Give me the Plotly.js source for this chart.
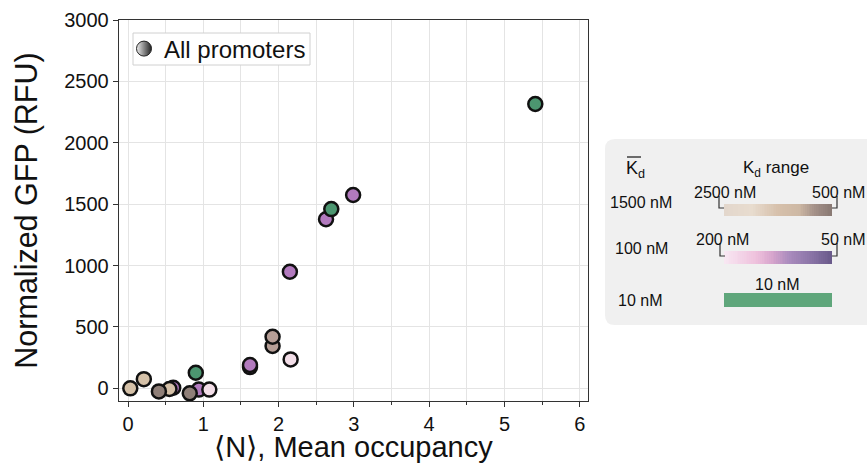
<!DOCTYPE html>
<html><head><meta charset="utf-8">
<script src="https://cdn.plot.ly/plotly-3.0.1.min.js"></script>
<style>html,body{margin:0;padding:0;background:#fff}#chart{width:867px;height:463px}</style>
</head><body><div id="chart"></div>
<script>
// ---- data ----
const occupancy = [0.60, 0.55, 0.03, 0.21, 0.41, 0.94, 0.82, 1.08, 0.90, 1.62, 1.62, 1.92, 1.92, 2.16, 2.15, 2.63, 2.70, 2.99, 5.41];
const gfp       = [5, -5, 0, 75, -25, -10, -40, -10, 127, 173, 190, 345, 420, 236, 950, 1377, 1460, 1575, 2316];
const kdGroup   = ['K100_mid','K1500_low','K1500_low','K1500_low','K1500_high','K100_mid','K1500_high','K100_low','K10','K100_mid','K100_mid','K1500_mid','K1500_mid','K100_low','K100_mid','K100_mid','K10','K100_mid','K10'];
const groupColor = {K1500_low:'#d5c1a8', K1500_mid:'#b69e96', K1500_high:'#8f7f78', K100_low:'#f3dee8', K100_mid:'#b27abe', K10:'#4c9670'};
const legendLabel = 'All promoters';
const meanKdLabels = ['1500 nM', '100 nM', '10 nM'];
const rangeLeftLabels = ['2500 nM', '200 nM', '10 nM'];
const rangeRightLabels = ['500 nM', '50 nM', ''];
const xTickVals = [0,1,2,3,4,5,6];
const yTickVals = [0,500,1000,1500,2000,2500,3000];
const brownScale = [[0,'#e3d7cc'],[0.25,'#e8dccf'],[0.5,'#d6c0ab'],[0.7,'#cdb8a4'],[0.85,'#a28f87'],[1,'#8a7a74']];
const purpleScale = [[0,'#f8e7f2'],[0.3,'#eec0dc'],[0.45,'#d6a4cc'],[0.6,'#ab8cbe'],[0.8,'#8c76a8'],[1,'#6a5a8b']];
const greenScale = [[0,'#5fa67b'],[1,'#5fa67b']];

// ---- geometry helpers (pixel -> paper) ----
const W=867,H=463,ML=119,MR=0,MT=20,MB=62;
const PW=W-ML-MR, PH=H-MT-MB;
const px=v=>(v-ML)/PW, py=v=>(H-MB-v)/PH;

const N=60;
const zRow=[...Array(N).keys()];
function bar(scale, xa, ya){
  return {type:'heatmap', z:[zRow], x:zRow, y:[0], colorscale:scale, showscale:false,
          hoverinfo:'skip', xaxis:xa, yaxis:ya, zmin:0, zmax:N-1};
}

const traces = [
  {type:'scatter', mode:'markers', x:occupancy, y:gfp, showlegend:false,
   marker:{size:14, color:kdGroup.map(g=>groupColor[g]), line:{color:'#111', width:2.5}}},
  {type:'scatter', mode:'markers', x:[null], y:[null], name:legendLabel, showlegend:true,
   marker:{size:15, color:'#eeeeee', gradient:{type:'horizontal', color:'#222'}, line:{color:'#222', width:1}}},
  bar(brownScale,'x2','y2'),
  bar(purpleScale,'x2','y3'),
  bar(greenScale,'x2','y4')
];

const fontFam = 'Liberation Sans, Arial, sans-serif';
const hidden = {visible:false, fixedrange:true};
const barX = [px(724), px(832)];

// rounded panel
const pl=px(605), pr=px(885), pt=py(139), pb=py(325);
const rx=10/PW, ry=10/PH;
const panelPath = `M ${pl+rx},${pt} L ${pr},${pt} L ${pr},${pb} L ${pl+rx},${pb} Q ${pl},${pb} ${pl},${pb+ry} L ${pl},${pt-ry} Q ${pl},${pt} ${pl+rx},${pt} Z`;

const shapes = [
  {type:'path', xref:'paper', yref:'paper', path:panelPath, fillcolor:'#f0f0f0', line:{width:0}, layer:'below'},
  // legend frame
  {type:'rect', xref:'paper', yref:'paper', x0:px(133), x1:px(310), y0:py(65), y1:py(33), fillcolor:'#ffffff', line:{color:'#d0d0d0', width:1}, layer:'above'},
  // overline on K
  {type:'line', xref:'paper', yref:'paper', x0:px(627), x1:px(641), y0:py(157), y1:py(157), line:{color:'#222', width:1.3}},
  // brackets brown
  {type:'path', xref:'paper', yref:'paper', path:`M ${px(719)},${py(196)} L ${px(719)},${py(208)} L ${px(724)},${py(208)}`, line:{color:'#333', width:1.2}},
  {type:'path', xref:'paper', yref:'paper', path:`M ${px(837)},${py(196)} L ${px(837)},${py(208)} L ${px(832)},${py(208)}`, line:{color:'#333', width:1.2}},
  // brackets purple
  {type:'path', xref:'paper', yref:'paper', path:`M ${px(720)},${py(243)} L ${px(720)},${py(256)} L ${px(725)},${py(256)}`, line:{color:'#333', width:1.2}},
  {type:'path', xref:'paper', yref:'paper', path:`M ${px(837)},${py(243)} L ${px(837)},${py(256)} L ${px(832)},${py(256)}`, line:{color:'#333', width:1.2}}
];

const af = {family:fontFam, size:16, color:'#111'};
const ann = (x,y,text,xa='center',size=16)=>({xref:'paper', yref:'paper', x:px(x), y:py(y), text, showarrow:false, xanchor:xa, yanchor:'middle', font:{...af, size}});
const annotations = [
  ann(635,169,'K<sub>d</sub>','center',18),
  ann(776,169,'K<sub>d</sub> range','center',17),
  ann(641,202,meanKdLabels[0]),
  ann(641,248,meanKdLabels[1]),
  ann(640,300,meanKdLabels[2]),
  ann(725,192,rangeLeftLabels[0]),
  ann(838,192,rangeRightLabels[0]),
  ann(722,240,rangeLeftLabels[1]),
  ann(843,240,rangeRightLabels[1]),
  ann(777,284,rangeLeftLabels[2])
];

const layout = {
  width:W, height:H, margin:{l:ML, r:MR, t:MT, b:MB},
  paper_bgcolor:'#ffffff', plot_bgcolor:'rgba(0,0,0,0)',
  font:{family:fontFam, color:'#111'},
  showlegend:true,
  legend:{x:px(136), y:py(49), xanchor:'left', yanchor:'middle', bgcolor:'rgba(0,0,0,0)', borderwidth:0,
          font:{family:fontFam, size:24, color:'#111'}, itemwidth:30, indentation:-12},
  xaxis:{domain:[0, px(588)], range:[-0.12, 6.11], tickvals:xTickVals, showgrid:true, gridcolor:'#e4e4e4', gridwidth:1,
         zeroline:false, showline:true, mirror:true, linecolor:'#333', linewidth:1.3, ticks:'outside', ticklen:5, tickcolor:'#333',
         tickfont:{family:fontFam, size:20, color:'#111'},
         minor:{dtick:0.5, tick0:0, showgrid:true, gridcolor:'#e4e4e4', ticks:'outside', ticklen:3, tickcolor:'#333'},
         title:{text:'⟨N⟩, Mean occupancy', font:{family:fontFam, size:29, color:'#111'}, standoff:7}},
  yaxis:{domain:[0,1], range:[-103, 3000], tickvals:yTickVals, showgrid:true, gridcolor:'#e4e4e4', gridwidth:1,
         zeroline:false, showline:true, mirror:true, linecolor:'#333', linewidth:1.3, ticks:'outside', ticklen:5, tickcolor:'#333',
         tickfont:{family:fontFam, size:20, color:'#111'},
         title:{text:'Normalized GFP (RFU)', font:{family:fontFam, size:30.5, color:'#111'}, standoff:17}},
  xaxis2:{...hidden, domain:barX, range:[-0.5, N-0.5], anchor:'y2'},
  yaxis2:{...hidden, domain:[py(216), py(204)], range:[-0.5,0.5], anchor:'x2'},
  yaxis3:{...hidden, domain:[py(264), py(251)], range:[-0.5,0.5], anchor:'x2'},
  yaxis4:{...hidden, domain:[py(307), py(293)], range:[-0.5,0.5], anchor:'x2'},
  shapes, annotations
};

Plotly.newPlot('chart', traces, layout, {displayModeBar:false, staticPlot:true});
</script>
</body></html>
